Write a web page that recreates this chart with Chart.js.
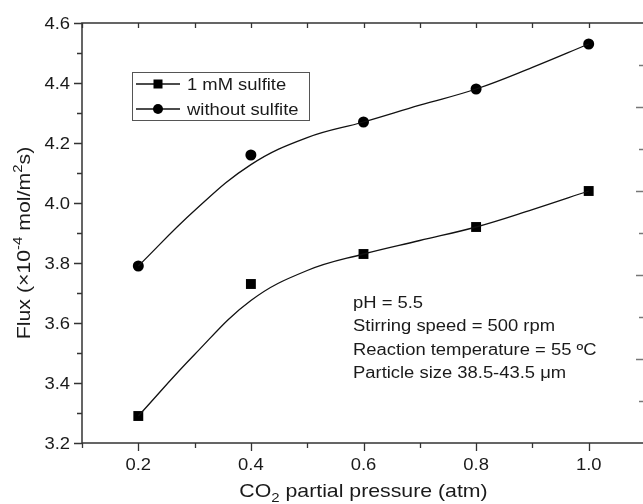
<!DOCTYPE html>
<html>
<head>
<meta charset="utf-8">
<script src="https://cdn.jsdelivr.net/npm/chart.js@4.4.1/dist/chart.umd.min.js"></script>
<style>
html, body { margin: 0; padding: 0; background: #fff; overflow: hidden; }
canvas { display: block; }
</style>
</head>
<body>
<canvas id="flux" width="652" height="504"></canvas>
<script>
// measured points
var pressure = [0.2, 0.4, 0.6, 0.8, 1.0];
var fluxSulfite = [3.29, 3.73, 3.83, 3.92, 4.04];
var fluxNoSulfite = [3.79, 4.16, 4.27, 4.38, 4.53];

// fitted curves
var fitPressure = [0.2, 0.3, 0.4, 0.5, 0.6, 0.7, 0.8, 0.9, 1.0];
var fitSulfite = [3.29, 3.495, 3.675, 3.775, 3.83, 3.875, 3.92, 3.978, 4.04];
var fitNoSulfite = [3.79, 3.975, 4.128, 4.218, 4.27, 4.326, 4.38, 4.452, 4.53];

var xTicks = [0.2, 0.4, 0.6, 0.8, 1.0];
var yTicks = [3.2, 3.4, 3.6, 3.8, 4.0, 4.2, 4.4, 4.6];
var seriesNames = ["1 mM sulfite", "without sulfite"];
var notes = ["pH = 5.5", "Stirring speed = 500 rpm", "Reaction temperature = 55 \u00baC", "Particle size 38.5-43.5 \u03bcm"];

var FONT = '"Liberation Sans", Arial, sans-serif';
var SX = 1.15; // the figure text is a bit wider than plain Arial

function toPoints(xs, ys) {
	return xs.map(function (x, i) { return { x: x, y: ys[i] }; });
}

// parts: [[text, ''|'sub'|'sup'], ...]
function drawParts(c, parts, x, y, size, align) {
	function fnt(p) { return (p[1] ? Math.round(size * 0.68) : size) + 'px ' + FONT; }
	var w = 0;
	parts.forEach(function (p) { c.font = fnt(p); w += c.measureText(p[0]).width; });
	var cx = align === 'center' ? -w / 2 : (align === 'right' ? -w : 0);
	c.save();
	c.translate(x, y);
	c.scale(SX, 1);
	c.textAlign = 'left';
	c.textBaseline = 'alphabetic';
	parts.forEach(function (p) {
		c.font = fnt(p);
		var dy = p[1] === 'sub' ? size * 0.28 : (p[1] === 'sup' ? -size * 0.42 : 0);
		c.fillText(p[0], cx, dy);
		cx += c.measureText(p[0]).width;
	});
	c.restore();
}

var framePlugin = {
	id: 'frame',
	afterDraw: function (chart) {
		var c = chart.ctx, a = chart.chartArea;
		var xs = chart.scales.x, ys = chart.scales.y;
		var i, px, py, major;
		c.save();
		c.strokeStyle = '#333';
		c.lineWidth = 1.5;
		c.strokeRect(a.left, a.top, a.right - a.left, a.bottom - a.top);

		c.lineWidth = 1.3;
		c.beginPath();
		// x ticks: outward at bottom, inward at top
		for (i = 1; i <= 11; i++) {
			px = Math.round(xs.getPixelForValue(i / 10)) + 0.5;
			major = i % 2 === 0;
			c.moveTo(px, a.bottom); c.lineTo(px, a.bottom + (major ? 8 : 5));
			c.moveTo(px, a.top); c.lineTo(px, a.top + 5);
		}
		// y ticks: outward at left
		for (i = 32; i <= 46; i++) {
			py = Math.round(ys.getPixelForValue(i / 10)) + 0.5;
			major = i % 2 === 0;
			c.moveTo(a.left, py); c.lineTo(a.left - (major ? 8 : 5), py);
		}
		c.stroke();

		// ticks of the neighbouring axis on the right edge
		c.strokeStyle = '#777';
		c.beginPath();
		for (i = 1; i < 10; i++) {
			py = Math.round(a.bottom - (a.bottom - a.top) * i / 10) + 0.5;
			c.moveTo(a.right, py); c.lineTo(a.right - (i % 2 === 0 ? 9 : 6), py);
		}
		c.stroke();

		// tick labels
		c.fillStyle = '#1a1a1a';
		xTicks.forEach(function (v) {
			drawParts(c, [[v.toFixed(1), '']], xs.getPixelForValue(v), a.bottom + 27, 16, 'center');
		});
		yTicks.forEach(function (v) {
			drawParts(c, [[v.toFixed(1), '']], a.left - 12, ys.getPixelForValue(v) + 5.8, 16, 'right');
		});

		// axis titles
		drawParts(c, [['CO', ''], ['2', 'sub'], [' partial pressure (atm)', '']],
			(a.left + a.right) / 2, 496.5, 18.5, 'center');
		c.save();
		c.translate(30, 243);
		c.rotate(-Math.PI / 2);
		drawParts(c, [['Flux (\u00d710', ''], ['-4', 'sup'], [' mol/m', ''], ['2', 'sup'], ['s)', '']],
			0, 0, 18.5, 'center');
		c.restore();

		// legend box
		c.strokeStyle = '#555';
		c.lineWidth = 1;
		c.strokeRect(132.5, 72.5, 177, 48);
		var rows = [84, 109];
		c.strokeStyle = '#111';
		c.lineWidth = 1.3;
		rows.forEach(function (ry, k) {
			c.beginPath(); c.moveTo(136, ry); c.lineTo(180, ry); c.stroke();
			c.fillStyle = '#000';
			if (k === 0) {
				c.fillRect(153.5, ry - 4.5, 9, 9);
			} else {
				c.beginPath(); c.arc(158, ry, 5, 0, Math.PI * 2); c.fill();
			}
			c.fillStyle = '#1a1a1a';
			drawParts(c, [[seriesNames[k], '']], 187, ry + 6, 16, 'left');
		});

		// experimental conditions
		notes.forEach(function (t, k) {
			drawParts(c, [[t, '']], 353, 307.5 + 23.5 * k, 16, 'left');
		});
		c.restore();
	}
};

var ctx = document.getElementById('flux');
var fluxChart = new Chart(ctx, {
	type: 'scatter',
	data: {
		datasets: [
			{
				label: 'fit ' + seriesNames[0],
				data: toPoints(fitPressure, fitSulfite),
				showLine: true,
				tension: 0.4,
				borderColor: '#111',
				borderWidth: 1.3,
				pointRadius: 0
			},
			{
				label: 'fit ' + seriesNames[1],
				data: toPoints(fitPressure, fitNoSulfite),
				showLine: true,
				tension: 0.4,
				borderColor: '#111',
				borderWidth: 1.3,
				pointRadius: 0
			},
			{
				label: seriesNames[0],
				data: toPoints(pressure, fluxSulfite),
				pointStyle: 'rect',
				pointRadius: 7,
				backgroundColor: '#000',
				borderColor: '#000',
				borderWidth: 0
			},
			{
				label: seriesNames[1],
				data: toPoints(pressure, fluxNoSulfite),
				pointStyle: 'circle',
				pointRadius: 5.5,
				backgroundColor: '#000',
				borderColor: '#000',
				borderWidth: 0
			}
		]
	},
	options: {
		responsive: false,
		animation: false,
		devicePixelRatio: 1,
		layout: { padding: { top: 23, right: 5, left: 0, bottom: 0 } },
		plugins: { legend: { display: false }, tooltip: { enabled: false } },
		scales: {
			x: {
				type: 'linear', min: 0.1, max: 1.1,
				ticks: { display: false }, grid: { display: false }, border: { display: false },
				afterFit: function (s) { s.height = 61; }
			},
			y: {
				min: 3.2, max: 4.6,
				ticks: { display: false }, grid: { display: false }, border: { display: false },
				afterFit: function (s) { s.width = 82; }
			}
		}
	},
	plugins: [framePlugin]
});
</script>
</body>
</html>
